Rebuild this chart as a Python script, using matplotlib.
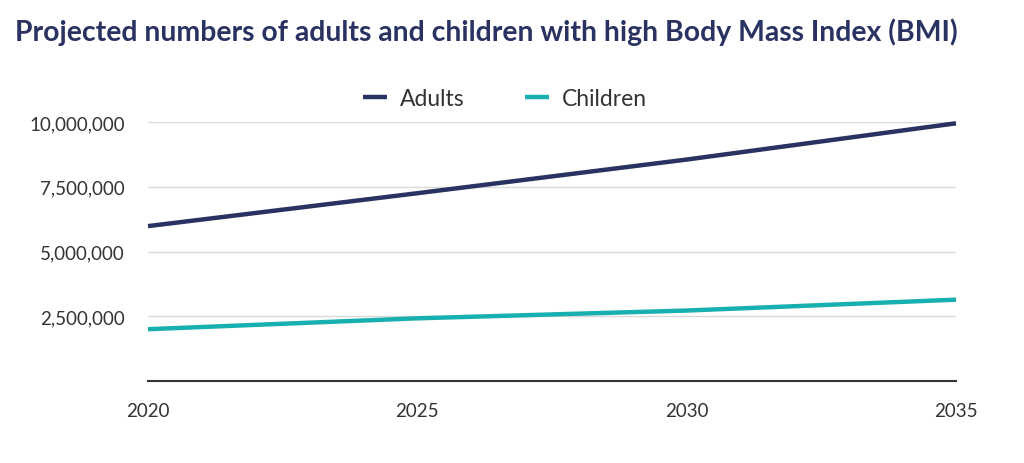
import matplotlib.pyplot as plt
from matplotlib.ticker import FuncFormatter

# Data
years = [2020, 2025, 2030, 2035]
adults = [5980000, 7250000, 8550000, 9950000]
children = [2000000, 2420000, 2720000, 3140000]
y_ticks = [2500000, 5000000, 7500000, 10000000]

navy = '#2A3261'
teal = '#18B0AF'
text_col = '#333333'

plt.rcParams['font.family'] = ['Lato', 'DejaVu Sans']

fig = plt.figure(figsize=(10.24, 4.64), dpi=100)
ax = fig.add_axes([148 / 1024, 1 - 382 / 464, (956 - 148) / 1024, (382 - 123) / 464])

ax.plot(years, adults, color=navy, linewidth=3.2, label='Adults', clip_on=False, solid_capstyle='butt')
ax.plot(years, children, color=teal, linewidth=3.2, label='Children', clip_on=False, solid_capstyle='butt')

ax.set_xlim(2020, 2035)
ax.set_ylim(0, 10000000)
ax.set_xticks(years)
ax.set_yticks(y_ticks)
ax.yaxis.set_major_formatter(FuncFormatter(lambda v, p: f'{int(v):,}'))
ax.grid(True, axis='y', color='#D9D9D9', linewidth=1)
ax.set_axisbelow(True)
for s in ['top', 'right', 'left']:
    ax.spines[s].set_visible(False)
ax.spines['bottom'].set_color('#333333')
ax.spines['bottom'].set_linewidth(1.5)
ax.tick_params(axis='both', length=0, labelsize=13.5, colors=text_col)
ax.tick_params(axis='x', pad=15)
ax.tick_params(axis='y', pad=16.5)

fig.legend(loc='center', bbox_to_anchor=(505 / 1024, 1 - 100 / 464), ncol=2, frameon=False,
           fontsize=16.5, handlelength=1.05, handletextpad=0.57, columnspacing=2.6,
           labelcolor=text_col)

fig.text(15 / 1024, 1 - 32 / 464, 'Projected numbers of adults and children with high Body Mass Index (BMI)',
         fontsize=20.4, fontweight='bold', color=navy, va='center', ha='left')

fig.savefig('out.png', dpi=100)
